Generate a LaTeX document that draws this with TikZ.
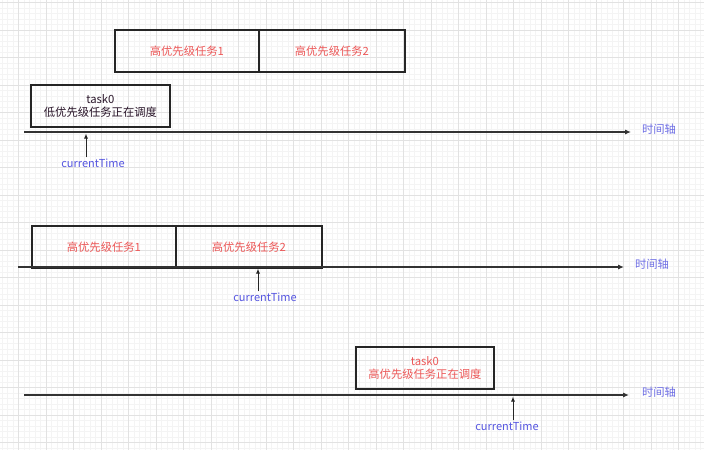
\documentclass[tikz,border=0pt]{standalone}
\usepackage{fontspec}
\setmainfont{Noto Sans CJK SC}
\usetikzlibrary{arrows.meta}
\definecolor{tred}{HTML}{EC5757}
\definecolor{tblue}{HTML}{5555E0}
\definecolor{tdark}{HTML}{2A162A}
\definecolor{gmajor}{HTML}{E2E2E2}
\definecolor{gminor}{HTML}{F4F4F4}
\tikzset{
  taskbox/.style={draw=black!85, line width=1.8pt, minimum width=#1, minimum height=42pt, anchor=north west, inner sep=0pt, font=\fontsize{11.3pt}{13.5pt}\selectfont, align=center},
  axisline/.style={line width=1.1pt, draw=black!80, -{Latex[length=6pt,width=5pt]}},
  ctarrow/.style={line width=1pt, draw=black!85, -{Latex[length=5pt,width=4pt]}},
  axlabel/.style={text=tblue!85, font=\fontsize{11.3pt}{12pt}\selectfont, inner sep=1pt},
  ctlabel/.style={text=tblue, font=\fontsize{11pt}{12pt}\selectfont, inner sep=1pt},
}
\begin{document}
\begin{tikzpicture}[x=1pt,y=-1pt]
\useasboundingbox (0,0) rectangle (704,450);
\fill[white] (0,0) rectangle (704,450);
% grid
\foreach \i in {0,...,130} {
  \draw[gminor, line width=0.5pt] ({18.5-27.5+\i*5.5},0) -- ({18.5-27.5+\i*5.5},450);
}
\foreach \j in {0,...,84} {
  \draw[gminor, line width=0.5pt] (0,{2.5+\j*5.5}) -- (704,{2.5+\j*5.5});
}
\foreach \i in {0,...,25} {
  \draw[gmajor, line width=0.8pt] ({18.5+\i*27.5},0) -- ({18.5+\i*27.5},450);
}
\foreach \j in {0,...,16} {
  \draw[gmajor, line width=0.8pt] (0,{2.5+\j*27.5}) -- (704,{2.5+\j*27.5});
}

% ---- top section ----
\node[taskbox=144pt, text=tred] (h1a) at (114,29) {高优先级任务1};
\node[taskbox=146pt, text=tred, anchor=north west] (h2a) at (258,29) {高优先级任务2};
\node[taskbox=139pt, text=tdark] (t0a) at (30,84) {task0\\低优先级任务正在调度};
\coordinate (axs1) at (24,132);
\coordinate (axe1) at (631,132);
\draw[axisline] (axs1) -- (axe1);
\node[axlabel] (al1) at (659,129) {时间轴};
\coordinate (cp1) at (86,133.5);
\node[ctlabel] (ct1) at (93,163) {currentTime};
\draw[ctarrow] (ct1.north -| cp1) -- (cp1);

% ---- middle section ----
\node[taskbox=144pt, text=tred] (h1b) at (31,225) {高优先级任务1};
\node[taskbox=146pt, text=tred] (h2b) at (175,225) {高优先级任务2};
\coordinate (axs2) at (18,267);
\coordinate (axe2) at (624,267);
\draw[axisline] (axs2) -- (axe2);
\node[axlabel] (al2) at (652,264) {时间轴};
\coordinate (cp2) at (258,268.5);
\node[ctlabel] (ct2) at (265,297) {currentTime};
\draw[ctarrow] (ct2.north -| cp2) -- (cp2);

% ---- bottom section ----
\node[taskbox=138pt, text=tred] (t0c) at (355,346) {task0\\高优先级任务正在调度};
\coordinate (axs3) at (24,395);
\coordinate (axe3) at (629,395);
\draw[axisline] (axs3) -- (axe3);
\node[axlabel] (al3) at (659,392) {时间轴};
\coordinate (cp3) at (513,396.5);
\node[ctlabel] (ct3) at (507,426) {currentTime};
\draw[ctarrow] (ct3.north -| cp3) -- (cp3);
\end{tikzpicture}
\end{document}
